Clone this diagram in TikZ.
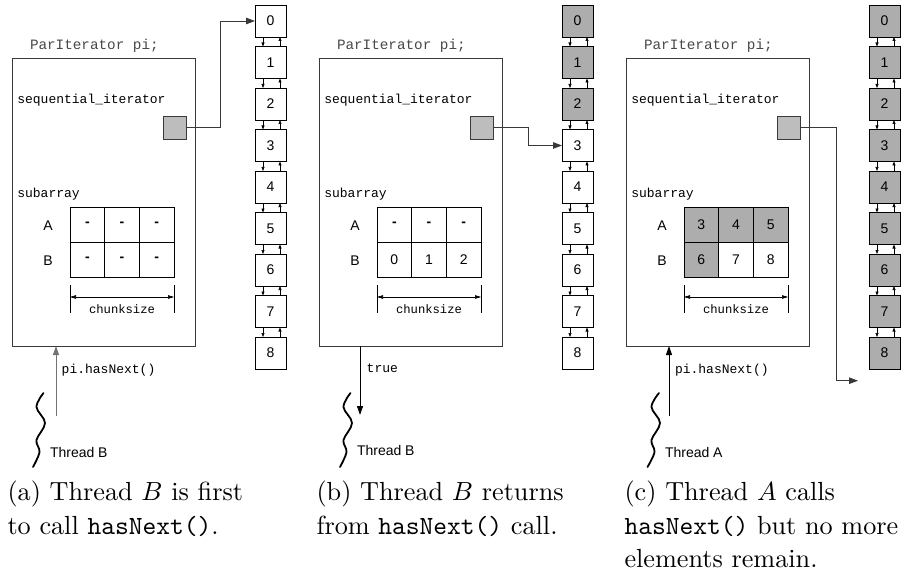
\documentclass[tikz,border=0pt]{standalone}
\usepackage{fontspec}
\newfontfamily\codefont{Liberation Mono}
\newfontfamily\labelfont{Liberation Sans}
\usetikzlibrary{arrows.meta}

\definecolor{cellgray}{HTML}{ADADAD}
\definecolor{ptrgray}{HTML}{BDBDBD}
\definecolor{edgegray}{HTML}{3A3A3A}

\newcommand\nodash{\textbf{-}}
\newcommand\capscale[1]{\scalebox{2.62}{#1}}

\tikzset{
  every node/.style={inner sep=0pt, outer sep=0pt},
  objframe/.style={draw=edgegray, line width=0.9pt, minimum width=183pt, minimum height=288pt, anchor=north west},
  ptrbox/.style={draw=edgegray, line width=0.9pt, fill=ptrgray, minimum size=23pt, anchor=north west},
  gridcell/.style={draw=black, line width=0.9pt, minimum width=34.7pt, minimum height=35pt, anchor=north west, font=\labelfont\fontsize{14}{14}\selectfont},
  gridfilled/.style={gridcell, fill=cellgray},
  listelem/.style={draw=black, line width=0.8pt, minimum width=31pt, minimum height=32pt, anchor=north west, font=\labelfont\fontsize{14}{14}\selectfont},
  listfilled/.style={listelem, fill=cellgray},
  objname/.style={anchor=base west, font=\codefont\fontsize{14.3}{14.3}\selectfont, text=black!72},
  fieldname/.style={anchor=base west, font=\codefont\fontsize{13}{13}\selectfont},
  sizename/.style={anchor=base, font=\codefont\fontsize{12.2}{12.2}\selectfont},
  rowlabel/.style={anchor=base, font=\labelfont\fontsize{14}{14}\selectfont},
  threadname/.style={anchor=base west, font=\labelfont\fontsize{14}{14}\selectfont},
  conn/.style={draw=black!78, line width=0.9pt, -{Triangle[length=9pt,width=6.5pt]}},
  callline/.style={line width=0.9pt, -{Triangle[length=9pt,width=6pt]}},
  listlink/.style={line width=0.6pt, -{Triangle[length=4pt,width=3pt]}},
  dimline/.style={line width=0.6pt, {Triangle[length=6pt,width=3.5pt]}-{Triangle[length=6pt,width=3.5pt]}},
  tick/.style={line width=0.7pt},
  wave/.style={line width=1.8pt, line cap=round},
  capline/.style={anchor=base west},
}

% parts shared by every panel: #1 = name prefix, #2 = number of shaded list elements
\newcommand\iterpanel[2]{%
  \node[objname] (#1-name) at (30,49.3) {ParIterator pi;};
  \node[objframe] (#1-box) at (12,58) {};
  \node[fieldname] (#1-seq) at (17.3,103.5) {sequential\_iterator};
  \node[ptrbox] (#1-ptr) at (163,116) {};
  \node[fieldname] (#1-sub) at (17.3,197) {subarray};
  \node[rowlabel] (#1-rowA) at (48,230) {A};
  \node[rowlabel] (#1-rowB) at (48,265) {B};
  % chunk size dimension
  \coordinate (#1-t1a) at (70,285);  \coordinate (#1-t1b) at (70,313);
  \coordinate (#1-t2a) at (174,285); \coordinate (#1-t2b) at (174,313);
  \draw[tick] (#1-t1a) -- (#1-t1b);
  \draw[tick] (#1-t2a) -- (#1-t2b);
  \coordinate (#1-dl) at (70,297); \coordinate (#1-dr) at (174,297);
  \draw[dimline] (#1-dl) -- (#1-dr);
  \node[sizename] (#1-chunk) at (122,313.3) {chunksize};
  % the underlying sequence
  \foreach \k in {0,...,8} {
    \ifnum\k<#2 \def\elstyle{listfilled}\else\def\elstyle{listelem}\fi
    \node[\elstyle] (#1-L\k) at (255,{5+41.5*\k}) {\k};
  }
  \foreach \k in {0,...,7} {
    \pgfmathtruncatemacro\nxt{\k+1}
    \draw[listlink] ([xshift=-7.5pt]#1-L\k.south) -- ([xshift=-7.5pt]#1-L\nxt.north);
    \draw[listlink] ([xshift=9.5pt]#1-L\nxt.north) -- ([xshift=9.5pt]#1-L\k.south);
  }
}

\begin{document}
\begin{tikzpicture}[x=1pt, y=-1pt]
\useasboundingbox (0,0) rectangle (904,572);

% ---------- (a) ----------
\begin{scope}
  \iterpanel{a}{0}
  \foreach \c in {0,1,2} {
    \node[gridcell] (a-g0\c) at ({70+34.7*\c},207) {\nodash};
    \node[gridcell] (a-g1\c) at ({70+34.7*\c},242) {\nodash};
  }
  \draw[conn] (a-ptr.east) -- ++(34,0) |- (a-L0.west);
  \coordinate (a-tail) at (56,416);
  \draw[callline, draw=black!55] (a-tail) -- (a-tail |- a-box.south);
  \node[fieldname] (a-call) at (61.7,373) {pi.hasNext()};
  \draw[wave] plot[smooth, tension=0.6] coordinates {(43.5,393) (36.5,407) (45,423) (36.5,440) (39.5,452) (33,467)};
  \node[threadname] (a-thr) at (50,457.3) {Thread B};
\end{scope}

% ---------- (b) ----------
\begin{scope}[xshift=307pt]
  \iterpanel{b}{3}
  \foreach \c in {0,1,2} {
    \node[gridcell] (b-g0\c) at ({70+34.7*\c},207) {\nodash};
    \node[gridcell] (b-g1\c) at ({70+34.7*\c},242) {\c};
  }
  \draw[conn] (b-ptr.east) -- ++(35,0) |- (b-L3.west);
  \coordinate (b-head) at (53,415);
  \draw[callline] (b-head |- b-box.south) -- (b-head);
  \node[fieldname] (b-ret) at (59.7,372) {true};
  \draw[wave] plot[smooth, tension=0.6] coordinates {(43.5,393) (36.5,407) (45,423) (36.5,440) (39.5,452) (33,467)};
  \node[threadname] (b-thr) at (50,455) {Thread B};
\end{scope}

% ---------- (c) ----------
\begin{scope}[xshift=614pt]
  \iterpanel{c}{9}
  \foreach \c/\s/\t in {0/gridfilled/3,1/gridfilled/4,2/gridfilled/5}
    \node[\s] (c-g0\c) at ({70+34.7*\c},207) {\t};
  \foreach \c/\s/\t in {0/gridfilled/6,1/gridcell/7,2/gridcell/8}
    \node[\s] (c-g1\c) at ({70+34.7*\c},242) {\t};
  \coordinate (c-end) at (244,380.7);
  \draw[conn] (c-ptr.east) -- ++(36,0) |- (c-end);
  \coordinate (c-tail) at (55,416);
  \draw[callline] (c-tail) -- (c-tail |- c-box.south);
  \node[fieldname] (c-call) at (61,373) {pi.hasNext()};
  \draw[wave] plot[smooth, tension=0.6] coordinates {(45,393) (37.5,407) (46,423) (37.5,440) (40.5,452) (33.5,467)};
  \node[threadname] (c-thr) at (51,457.3) {Thread A};
\end{scope}

% ---------- captions ----------
\node[capline] (cap-a1) at (7.5,500.5) {\capscale{(a) Thread $B$ is first}};
\node[capline] (cap-a2) at (7.5,534) {\capscale{to call \texttt{hasNext()}.}};
\node[capline] (cap-b1) at (316.5,500.5) {\capscale{(b) Thread $B$ returns}};
\node[capline] (cap-b2) at (316.5,534) {\capscale{from \texttt{hasNext()} call.}};
\node[capline] (cap-c1) at (624.5,500.5) {\capscale{(c) Thread $A$ calls}};
\node[capline] (cap-c2) at (624.5,534) {\capscale{\texttt{hasNext()} but no more}};
\node[capline] (cap-c3) at (624.5,567.5) {\capscale{elements remain.}};
\end{tikzpicture}
\end{document}
